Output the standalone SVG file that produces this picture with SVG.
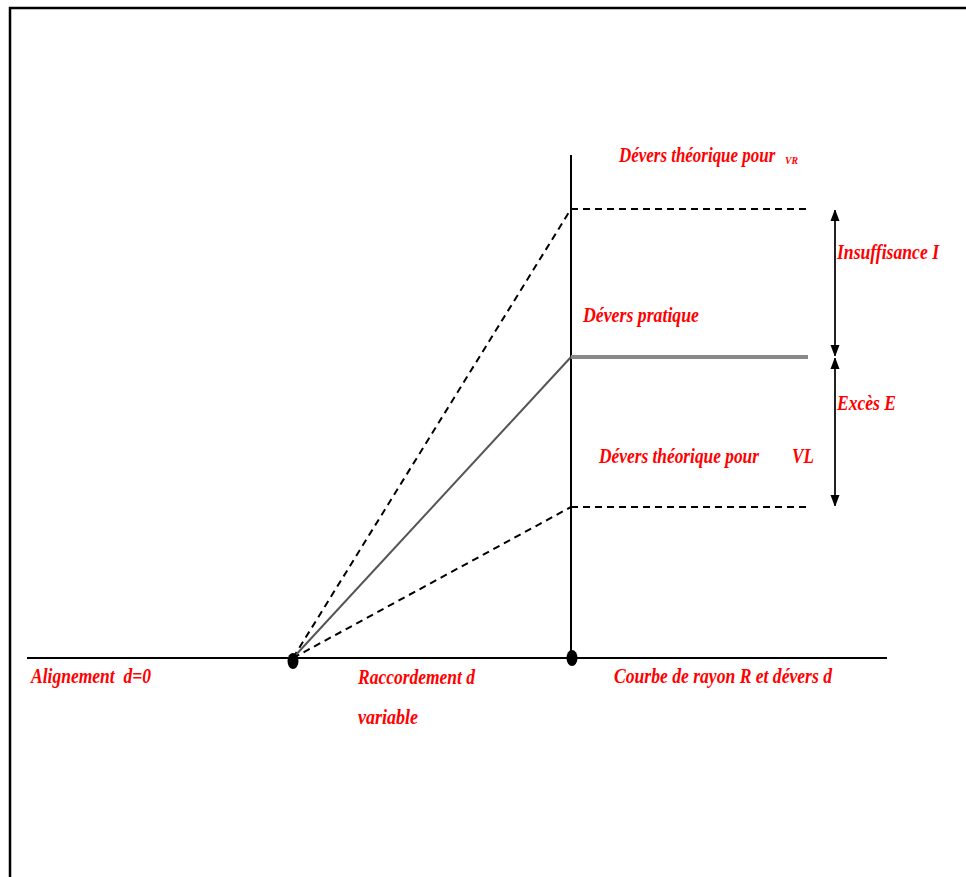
<svg xmlns="http://www.w3.org/2000/svg" width="966" height="877" viewBox="0 0 966 877">
<style>
.t{font-family:"Liberation Serif","Times New Roman",serif;font-weight:bold;font-style:italic;font-size:20px;fill:#ff0000}
.t.s{font-size:10px}
.dash{stroke:#000;stroke-width:2;stroke-dasharray:7,5;fill:none}
.ln{stroke:#000;stroke-width:2;fill:none}
</style>
<defs>
<marker id="ah" markerWidth="10" markerHeight="12" refX="11" refY="5" orient="auto" markerUnits="userSpaceOnUse">
<path d="M0,0.5 L12,5 L0,9.5 Z" fill="#000"/>
</marker>
</defs>
<rect width="966" height="877" fill="#fff"/>
<g id="frame">
<path d="M10,877 L10,8 L966,8" stroke="#000" stroke-width="2.5" fill="none"/>
</g>
<g id="connectors">
<line class="ln" x1="27" y1="658" x2="887" y2="658"/>
<line class="ln" x1="571" y1="155" x2="571" y2="658"/>
<line class="dash" x1="571" y1="209" x2="808" y2="209"/>
<line class="dash" x1="293" y1="658" x2="571" y2="209"/>
<line stroke="#888" stroke-width="4" x1="571" y1="357" x2="808" y2="357"/>
<line stroke="#555" stroke-width="2" x1="293" y1="658" x2="571" y2="357"/>
<line class="dash" x1="571" y1="507" x2="808" y2="507"/>
<line class="dash" x1="293" y1="658" x2="571" y2="507"/>
<line stroke="#222" stroke-width="2" x1="835" y1="283" x2="835" y2="210" marker-end="url(#ah)"/>
<line stroke="#222" stroke-width="2" x1="835" y1="283" x2="835" y2="356" marker-end="url(#ah)"/>
<line stroke="#222" stroke-width="2" x1="835" y1="432" x2="835" y2="358" marker-end="url(#ah)"/>
<line stroke="#222" stroke-width="2" x1="835" y1="432" x2="835" y2="506" marker-end="url(#ah)"/>
</g>
<g id="dot1"><ellipse cx="293" cy="661" rx="5.5" ry="8" fill="#000"/></g>
<g id="dot2"><ellipse cx="572" cy="658" rx="5.5" ry="8" fill="#000"/></g>
<g id="labels">
<text class="t" transform="translate(619,162) scale(0.84,1)" x="0" y="0" textLength="186" lengthAdjust="spacingAndGlyphs">Dévers théorique pour</text>
<text class="t s" x="785" y="164" textLength="13" lengthAdjust="spacingAndGlyphs">VR</text>
<text class="t" x="837" y="259" textLength="102" lengthAdjust="spacingAndGlyphs">Insuffisance I</text>
<text class="t" x="583" y="322" textLength="116" lengthAdjust="spacingAndGlyphs">Dévers pratique</text>
<text class="t" x="837" y="410" textLength="59" lengthAdjust="spacingAndGlyphs">Excès E</text>
<text class="t" x="599" y="463" textLength="160" lengthAdjust="spacingAndGlyphs">Dévers théorique pour</text>
<text class="t" x="792" y="463" textLength="22" lengthAdjust="spacingAndGlyphs">VL</text>
<text class="t" x="31" y="683" textLength="120" lengthAdjust="spacingAndGlyphs" xml:space="preserve">Alignement  d=0</text>
<text class="t" x="358" y="684" textLength="117" lengthAdjust="spacingAndGlyphs">Raccordement d</text>
<text class="t" x="358" y="724" textLength="60" lengthAdjust="spacingAndGlyphs">variable</text>
<text class="t" x="614" y="683" textLength="218" lengthAdjust="spacingAndGlyphs">Courbe de rayon R et dévers d</text>
</g>
</svg>
